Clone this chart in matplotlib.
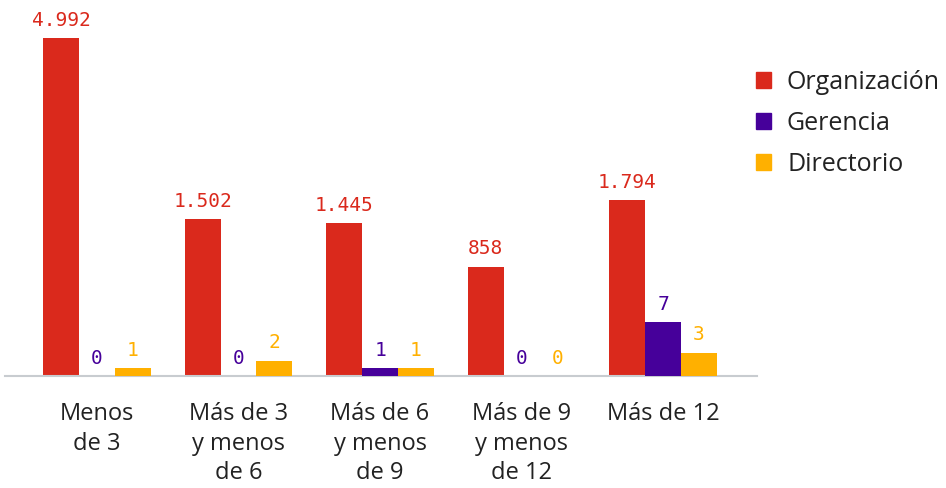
import matplotlib
matplotlib.use('Agg')
import matplotlib.pyplot as plt
from matplotlib.patches import Patch
import numpy as np

categories = ['Menos\nde 3', 'Más de 3\ny menos\nde 6', 'Más de 6\ny menos\nde 9',
              'Más de 9\ny menos\nde 12', 'Más de 12']
organizacion = [4992, 1502, 1445, 858, 1794]
gerencia = [0, 0, 1, 0, 7]
directorio = [1, 2, 1, 0, 3]
labels_org = ['4.992', '1.502', '1.445', '858', '1.794']

RED, PURPLE, YELLOW = '#DA291C', '#46009A', '#FFB000'
TXT = '#222222'
SANS = ['Open Sans', 'DejaVu Sans']
MONO = 'DejaVu Sans Mono'

fig = plt.figure(figsize=(9.46, 4.88), dpi=100)
ax = fig.add_axes([5/946, 112/488, 752/946, 376/488])
# the organisation series is drawn on a compressed scale, the small series on its own axis
p = 0.64
ax.set_yscale('function', functions=(lambda v: np.sign(v)*np.abs(v)**p,
                                     lambda v: np.sign(v)*np.abs(v)**(1/p)))
ax2 = ax.twinx()

x = np.arange(len(categories))
w = 0.254
b1 = ax.bar(x - w, organizacion, w, color=RED)
b2 = ax2.bar(x, gerencia, w, color=PURPLE)
b3 = ax2.bar(x + w, directorio, w, color=YELLOW)

ax.set_ylim(0, 5900)
ax2.set_ylim(0, 48.8)
ax.set_xlim(-0.65, 4.664)

def label(a, xs, vals, txts, col):
    for xi, v, t in zip(xs, vals, txts):
        a.annotate(t, (xi, v), xytext=(0, 9), textcoords='offset points',
                   ha='center', va='baseline', color=col, fontsize=14,
                   family=MONO, clip_on=False)

label(ax, x - w, organizacion, labels_org, RED)
label(ax2, x, gerencia, [str(v) for v in gerencia], PURPLE)
label(ax2, x + w, directorio, [str(v) for v in directorio], YELLOW)

for a in (ax, ax2):
    for s in ('top', 'left', 'right', 'bottom'):
        a.spines[s].set_visible(False)
    a.set_yticks([])
ax.spines['bottom'].set_visible(True)
ax.spines['bottom'].set_color('#c8ccd0')
ax.spines['bottom'].set_linewidth(1.5)
ax.minorticks_off(); ax2.minorticks_off()
ax.set_xticks(x)
ax.set_xticklabels(categories, fontsize=17, color=TXT, family=SANS, linespacing=1.3)
ax.tick_params(axis='x', length=0, pad=19)

handles = [Patch(color=RED), Patch(color=PURPLE), Patch(color=YELLOW)]
fig.legend(handles, ['Organización', 'Gerencia', 'Directorio'], loc='upper left',
           bbox_to_anchor=(756/946, 1 - 70/488), frameon=False, borderpad=0,
           borderaxespad=0, handlelength=0.6, handleheight=0.6, handletextpad=0.64,
           labelspacing=0.64, prop={'family': SANS, 'size': 18}, labelcolor=TXT)

fig.savefig('out.png', dpi=100)
